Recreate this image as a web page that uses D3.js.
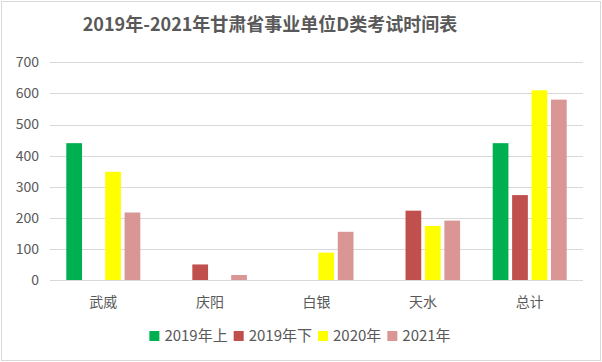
<!DOCTYPE html>
<html><head><meta charset="utf-8">
<script src="https://cdn.jsdelivr.net/npm/d3@7/dist/d3.min.js"></script>
<style>body{margin:0;background:#fff}svg{display:block;font-family:"Noto Sans CJK SC","Microsoft YaHei",sans-serif}</style>
</head><body><svg id="c" width="602" height="362"></svg>
<script>
const title = "2019年-2021年甘肃省事业单位D类考试时间表";
const categories = ["武威","庆阳","白银","天水","总计"];
const seriesNames = ["2019年上","2019年下","2020年","2021年"];
const colors = ["#00B050","#C0504D","#FFFF00","#D99694"];
const s2019a = [440, 0, 0, 0, 440];
const s2019b = [0, 50, 0, 223, 273];
const s2020 = [348, 0, 88, 174, 610];
const s2021 = [217, 16, 155, 191, 580];
const yTicks = [0,100,200,300,400,500,600,700];
const seriesValues = [s2019a, s2019b, s2020, s2021];

const svg = d3.select("#c");
svg.append("rect").attr("x",1.5).attr("y",1.5).attr("width",599).attr("height",359)
  .attr("fill","#fff").attr("stroke","#d9d9d9").attr("stroke-width",1);

svg.append("text").attr("x",270).attr("y",31).attr("text-anchor","middle")
  .attr("font-size",18).attr("font-weight","bold").attr("fill","#595959").text(title);

const y = d3.scaleLinear().domain([0,700]).range([280,62.3]);
const x0 = d3.scaleBand().domain(categories).range([50,583]).padding(0);
const bw = x0.bandwidth();
const x1 = d3.scaleBand().domain(seriesNames).range([bw/2-37, bw/2+37]).paddingInner(0.19).paddingOuter(0);

svg.append("g").selectAll("line").data(yTicks).join("line")
  .attr("x1",50).attr("x2",583).attr("y1",d=>Math.round(y(d))+0.5).attr("y2",d=>Math.round(y(d))+0.5)
  .attr("stroke","#d9d9d9").attr("stroke-width",1);

svg.append("g").selectAll("text").data(yTicks).join("text")
  .attr("x",39).attr("y",d=>y(d)).attr("dy","0.35em").attr("text-anchor","end")
  .attr("font-size",14).attr("fill","#595959").text(d=>d);

const data = [];
categories.forEach((c,i)=>seriesNames.forEach((s,j)=>data.push({c,s,j,v:seriesValues[j][i]})));
svg.append("g").selectAll("rect").data(data.filter(d=>d.v>0)).join("rect")
  .attr("x",d=>x0(d.c)+x1(d.s)).attr("width",x1.bandwidth())
  .attr("y",d=>y(d.v)).attr("height",d=>y(0)-y(d.v))
  .attr("fill",d=>colors[d.j]);

svg.append("line").attr("x1",50).attr("x2",583).attr("y1",280.5).attr("y2",280.5).attr("stroke","#d9d9d9");

svg.append("g").selectAll("text").data(categories).join("text")
  .attr("x",d=>x0(d)+bw/2).attr("y",302).attr("dy","0.35em").attr("text-anchor","middle")
  .attr("font-size",14).attr("fill","#595959").text(d=>d);

const lg = svg.append("g");
let cx = 0;
seriesNames.forEach((s,j)=>{
  const g = lg.append("g");
  g.append("rect").attr("x",cx).attr("y",-5).attr("width",10).attr("height",10).attr("fill",colors[j]);
  const t = g.append("text").attr("x",cx+15).attr("y",0).attr("dy","0.35em")
    .attr("font-size",15).attr("fill","#595959").text(s);
  cx += 15 + t.node().getComputedTextLength() + 6;
});
const total = cx - 6;
lg.attr("transform",`translate(${300-total/2},336)`);
</script></body></html>
